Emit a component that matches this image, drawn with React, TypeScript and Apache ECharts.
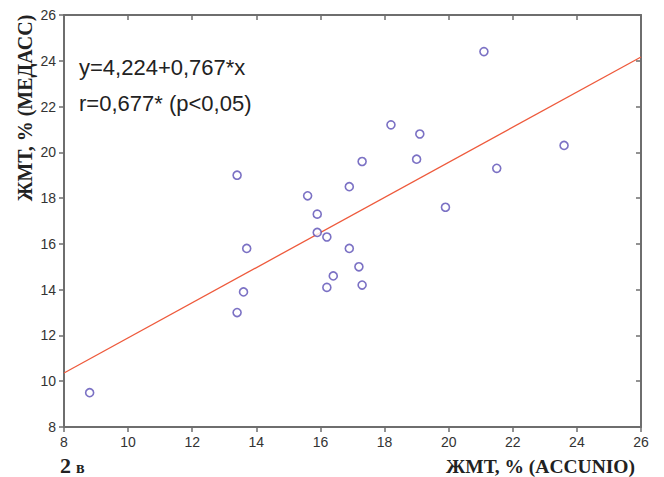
import React, { useEffect, useRef } from "react";
import * as echarts from "echarts";

const xValues = [8.8, 13.4, 13.6, 13.7, 13.4, 15.6, 15.9, 15.9, 16.2, 16.2, 16.4, 16.9, 16.9, 17.2, 17.3, 17.3, 18.2, 19.0, 19.1, 19.9, 21.1, 21.5, 23.6];
const yValues = [9.5, 13.0, 13.9, 15.8, 19.0, 18.1, 17.3, 16.5, 16.3, 14.1, 14.6, 15.8, 18.5, 15.0, 14.2, 19.6, 21.2, 19.7, 20.8, 17.6, 24.4, 19.3, 20.3];
const intercept = 4.224;
const slope = 0.767;
const axisMin = 8;
const axisMax = 26;
const axisStep = 2;
const equationText = "y=4,224+0,767*x";
const corrText = "r=0,677* (p<0,05)";
const yTitle = "ЖМТ, % (МЕДАСС)";
const xTitle = "ЖМТ, % (ACCUNIO)";
const panelNum = "2";
const panelLetter = "в";

export default function App() {
  const ref = useRef<HTMLDivElement>(null);
  useEffect(() => {
    if (!ref.current) return;
    const chart = echarts.init(ref.current, null, { renderer: "svg" });
    const points = xValues.map((x, i) => [x, yValues[i]]);
    const fitLine = [
      [axisMin, intercept + slope * axisMin],
      [axisMax, intercept + slope * axisMax],
    ];
    const axisLine = { show: true, lineStyle: { color: "#6e6e6e", width: 2 } };
    const labelStyle = { fontFamily: "Liberation Sans", fontSize: 14, color: "#333" };
    chart.setOption({
      animation: false,
      backgroundColor: "#fff",
      grid: { left: 64, right: 23, top: 15, bottom: 50, containLabel: false },
      xAxis: [
        {
          type: "value", min: axisMin, max: axisMax, interval: axisStep,
          axisLine, splitLine: { show: false },
          axisTick: { show: true, inside: false, length: 5, lineStyle: { color: "#6e6e6e", width: 1.5 } },
          axisLabel: { ...labelStyle, margin: 8 },
        },
        {
          type: "value", position: "top", min: axisMin, max: axisMax, interval: axisStep,
          axisLine, splitLine: { show: false },
          axisTick: { show: true, inside: true, length: 5, lineStyle: { color: "#6e6e6e", width: 1.5 } },
          axisLabel: { show: false },
        },
      ],
      yAxis: [
        {
          type: "value", min: axisMin, max: axisMax, interval: axisStep,
          axisLine, splitLine: { show: false },
          axisTick: { show: true, inside: false, length: 5, lineStyle: { color: "#6e6e6e", width: 1.5 } },
          axisLabel: { ...labelStyle, margin: 8 },
        },
        {
          type: "value", position: "right", min: axisMin, max: axisMax, interval: axisStep,
          axisLine, splitLine: { show: false },
          axisTick: { show: true, inside: true, length: 5, lineStyle: { color: "#6e6e6e", width: 1.5 } },
          axisLabel: { show: false },
        },
      ],
      series: [
        {
          type: "line", data: fitLine, xAxisIndex: 0, yAxisIndex: 0,
          showSymbol: false, symbol: "none",
          lineStyle: { color: "#ee5a3c", width: 1.3 },
          z: 2,
        },
        {
          type: "scatter", data: points, xAxisIndex: 0, yAxisIndex: 0,
          symbol: "circle", symbolSize: 8,
          itemStyle: { color: "#fff", borderColor: "#5a4db5", borderWidth: 1.6 },
          z: 3,
        },
      ],
      graphic: [
        {
          type: "text", left: 79, top: 56,
          style: { text: equationText, fontFamily: "Liberation Sans", fontSize: 22, fill: "#222" },
        },
        {
          type: "text", left: 79, top: 92,
          style: { text: corrText, fontFamily: "Liberation Sans", fontSize: 22, fill: "#222" },
        },
        {
          type: "text", x: 25, y: 108, rotation: Math.PI / 2,
          style: {
            text: yTitle, fontFamily: "Liberation Serif", fontWeight: "bold", fontSize: 20,
            fill: "#222", align: "center", verticalAlign: "middle",
          },
        },
        {
          type: "text", x: 635, y: 466,
          style: {
            text: xTitle, fontFamily: "Liberation Serif", fontWeight: "bold", fontSize: 19.5,
            fill: "#222", align: "right", verticalAlign: "middle",
          },
        },
        {
          type: "text", x: 60, y: 465,
          style: {
            text: panelNum, fontFamily: "Liberation Serif", fontWeight: "bold", fontSize: 22,
            fill: "#222", align: "left", verticalAlign: "middle",
          },
        },
        {
          type: "text", x: 76, y: 467,
          style: {
            text: panelLetter, fontFamily: "Liberation Serif", fontWeight: "bold", fontSize: 16,
            fill: "#222", align: "left", verticalAlign: "middle",
          },
        },
      ],
    });
    return () => chart.dispose();
  }, []);
  return <div ref={ref} style={{ width: 664, height: 477, position: "absolute", left: 0, top: 0 }} />;
}
